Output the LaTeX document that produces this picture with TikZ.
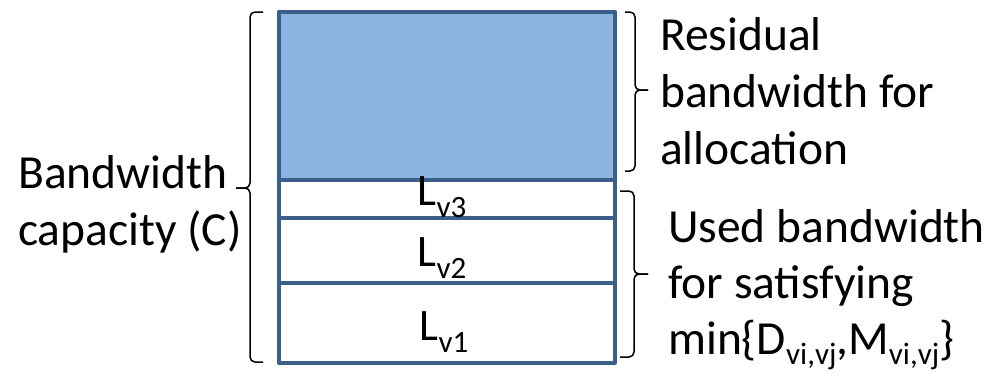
\documentclass[tikz,border=0pt]{standalone}
\usepackage{fontspec}
\setmainfont{Carlito}
\definecolor{boxfill}{HTML}{8EB4E3}
\definecolor{boxline}{HTML}{3A5F8B}
\newcommand{\sbs}[1]{\raisebox{-12pt}{\fontsize{31}{31}\selectfont #1}}
\newcommand{\sbm}[1]{\raisebox{-10pt}{\fontsize{31}{31}\selectfont #1}}
\begin{document}
\begin{tikzpicture}[x=1pt,y=-1pt,
  lbl/.style={anchor=base west,inner sep=0pt,font=\fontsize{47.5}{57}\selectfont},
  ltxt/.style={anchor=base,inner sep=0pt,font=\fontsize{45}{52}\selectfont},
  brace/.style={draw=black,line width=1.5pt,rounded corners=5pt},
  seg/.style={draw=boxline,line width=4.5pt}]
\useasboundingbox (0,0) rectangle (990,373);
% bar
\coordinate (tl) at (279,12);
\coordinate (br) at (615,363);
\fill[boxfill] (279,12) rectangle (615,180);
\draw[seg] (279,180) -- (615,180);
\draw[seg] (279,218) -- (615,218);
\draw[seg] (279,283) -- (615,283);
\draw[seg,line join=round] (tl) rectangle (br);
% labels in bar
\node[ltxt] (l3) at (442,205) {L\sbs{v3}};
\node[ltxt] (l2) at (442,266) {L\sbs{v2}};
\node[ltxt] (l1) at (444,340) {L\sbs{v1}};
% left brace
\draw[brace] (263,12) -- (250,12) -- (250,188) -- (236,188);
\draw[brace] (236,188) -- (250,188) -- (250,362) -- (263,362);
% right top brace
\draw[brace] (625,12) -- (635,12) -- (635,90) -- (648,90);
\draw[brace] (648,90) -- (635,90) -- (635,171) -- (625,171);
% right bottom brace
\draw[brace] (620,191) -- (634,191) -- (634,274) -- (648,274);
\draw[brace] (648,274) -- (634,274) -- (634,357) -- (620,357);
% texts
\node[lbl] (c1) at (18,188) {Bandwidth};
\node[lbl] (c2) at (18,245) {capacity (C)};
\node[lbl] (r1) at (660,50) {Residual};
\node[lbl] (r2) at (660,107) {bandwidth for};
\node[lbl] (r3) at (660,164) {allocation};
\node[lbl] (u1) at (668,242) {Used bandwidth};
\node[lbl] (u2) at (668,298) {for satisfying};
\node[lbl] (u3) at (668,354) {min\{D\sbm{vi,vj},M\sbm{vi,vj}\}};
\end{tikzpicture}
\end{document}
